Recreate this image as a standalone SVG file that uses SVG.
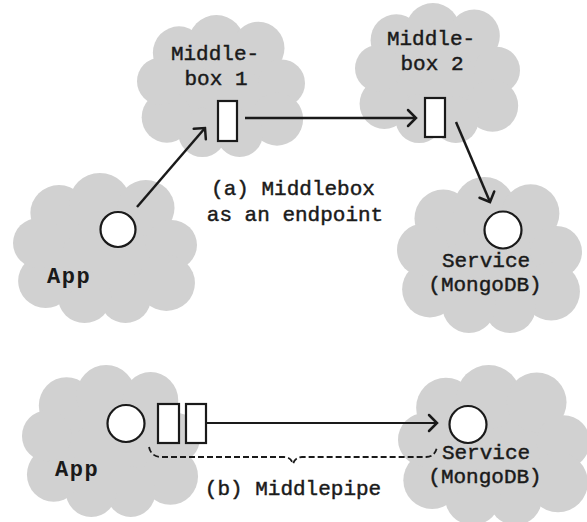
<svg xmlns="http://www.w3.org/2000/svg" xmlns:xlink="http://www.w3.org/1999/xlink" width="587" height="522" viewBox="0 0 587 522">
  <style>
    .cloud { fill: #d1d1d1; }
    .lbl { font-family: "Liberation Mono", "Courier New", monospace; font-size: 21px; fill: #1a1a1a; stroke: #1a1a1a; stroke-width: 0.45; text-anchor: middle; }
    .app { font-family: "Liberation Mono", "Courier New", monospace; font-size: 22px; font-weight: bold; fill: #1a1a1a; letter-spacing: 1.5px; }
    .port { fill: #ffffff; stroke: #1a1a1a; stroke-width: 2.2; }
    .flow { fill: none; stroke: #1a1a1a; stroke-width: 2.5; marker-end: url(#chev); }
    .brace { fill: none; stroke: #1a1a1a; stroke-width: 1.8; stroke-dasharray: 6 3; }
  </style>
  <defs>
    <!-- generic puffy cloud, stretched to each box -->
    <symbol id="cloud" viewBox="0 0 180 150" preserveAspectRatio="none">
      <g class="cloud">
        <ellipse cx="90" cy="77" rx="66" ry="52"/>
        <circle cx="45" cy="40" r="28"/>
        <circle cx="85" cy="30" r="30"/>
        <circle cx="130" cy="35" r="28"/>
        <circle cx="155" cy="72" r="25"/>
        <circle cx="150" cy="110" r="28"/>
        <circle cx="110" cy="125" r="25"/>
        <circle cx="70" cy="124" r="26"/>
        <circle cx="32" cy="108" r="27"/>
        <circle cx="25" cy="70" r="25"/>
      </g>
    </symbol>
    <marker id="chev" viewBox="-10 -10 12 20" markerWidth="12" markerHeight="20" refX="0" refY="0" orient="auto" markerUnits="userSpaceOnUse">
      <path d="M-8,-8 L0,0 L-8,8" fill="none" stroke="#1a1a1a" stroke-width="2.5" stroke-linecap="round" stroke-linejoin="miter"/>
    </marker>
  </defs>

  <!-- (a) middlebox as an endpoint -->
  <g id="middlebox1">
    <use xlink:href="#cloud" href="#cloud" x="137" y="15" width="168" height="142"/>
    <text class="lbl" x="215" y="60">Middle-</text>
    <text class="lbl" x="216" y="85">box 1</text>
    <rect class="port" x="218" y="101" width="19" height="40"/>
  </g>

  <g id="middlebox2">
    <use xlink:href="#cloud" href="#cloud" x="355" y="3" width="165" height="140"/>
    <text class="lbl" x="431" y="45">Middle-</text>
    <text class="lbl" x="432" y="70">box 2</text>
    <rect class="port" x="425" y="98" width="20" height="39"/>
  </g>

  <g id="app-a">
    <use xlink:href="#cloud" href="#cloud" x="13" y="173" width="184" height="150"/>
    <circle class="port" cx="118" cy="229.5" r="17.5"/>
    <text class="app" x="47" y="283">App</text>
  </g>

  <g id="service-a">
    <use xlink:href="#cloud" href="#cloud" x="397" y="177" width="185" height="156"/>
    <circle class="port" cx="503" cy="230" r="18.5"/>
    <text class="lbl" x="486" y="267">Service</text>
    <text class="lbl" x="485" y="291">(MongoDB)</text>
  </g>

  <g id="caption-a">
    <text class="lbl" x="293" y="195">(a) Middlebox</text>
    <text class="lbl" x="295" y="221">as an endpoint</text>
  </g>

  <!-- (b) middlepipe -->
  <g id="app-b">
    <use xlink:href="#cloud" href="#cloud" x="22" y="365" width="178" height="152"/>
    <circle class="port" cx="126" cy="423.5" r="18.5"/>
    <rect class="port" x="158" y="404" width="21" height="39"/>
    <rect class="port" x="186" y="404" width="20" height="39"/>
    <text class="app" x="55" y="476">App</text>
  </g>

  <g id="service-b">
    <use xlink:href="#cloud" href="#cloud" x="398" y="365" width="192" height="160"/>
    <circle class="port" cx="468" cy="424.5" r="18.5"/>
    <text class="lbl" x="486" y="459">Service</text>
    <text class="lbl" x="485" y="483">(MongoDB)</text>
  </g>

  <g id="caption-b">
    <text class="lbl" x="293" y="495">(b) Middlepipe</text>
  </g>

  <g id="connectors">
    <line class="flow" x1="137" y1="207" x2="205" y2="128"/>
    <line class="flow" x1="245" y1="118" x2="416" y2="118"/>
    <line class="flow" x1="456" y1="122" x2="490" y2="202"/>
    <line class="flow" x1="206" y1="423" x2="437" y2="423" style="stroke-width:2.2"/>
    <path class="brace" d="M149,447 Q151,457 162,457 L284,457 Q291,457 293,464 Q295,457 302,457 L426,457 Q435,457 437,447"/>
  </g>
</svg>
